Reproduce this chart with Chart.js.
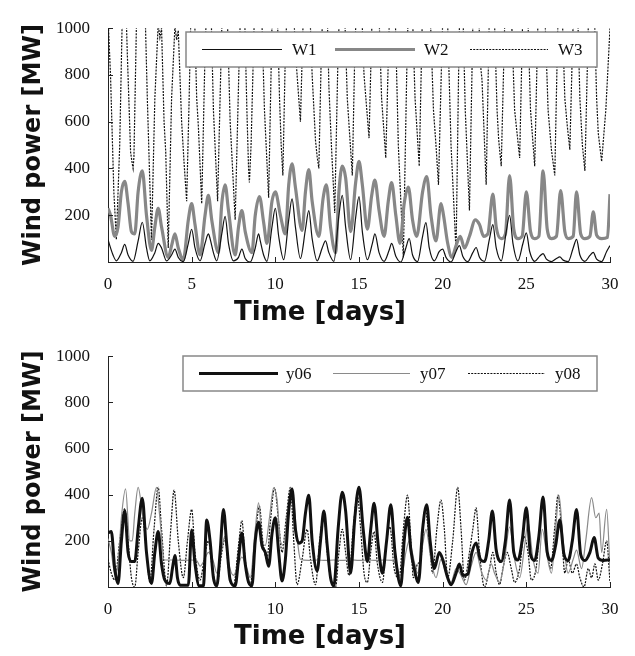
<!DOCTYPE html>
<html>
<head>
<meta charset="utf-8">
<script src="https://cdn.jsdelivr.net/npm/chart.js@4/dist/chart.umd.min.js"></script>
<style>
  body { margin: 0; background: #fff; }
  canvas { display: block; }
</style>
</head>
<body>
<canvas id="topChart" width="635" height="328"></canvas>
<canvas id="bottomChart" width="635" height="328"></canvas>
<script>
// ---- data: [day, MW] ----
var xTicks = [0, 5, 10, 15, 20, 25, 30];
var yTicks = [200, 400, 600, 800, 1000];

var w1 = [[0,95],[0.3,30],[0.5,5],[0.8,40],[1.0,75],[1.2,30],[1.5,3],[1.8,90],[2.05,170],[2.3,60],[2.5,5],[2.8,40],[3.0,80],[3.2,60],[3.5,5],[3.8,30],[4.0,55],[4.2,20],[4.5,2],[4.8,80],[5.0,140],[5.2,60],[5.5,5],[5.8,80],[6.0,120],[6.1,100],[6.3,40],[6.5,5],[6.8,120],[7.0,195],[7.2,80],[7.5,5],[7.8,20],[8.0,55],[8.2,15],[8.5,0],[8.8,60],[9.0,120],[9.1,90],[9.3,30],[9.5,3],[9.8,150],[10.0,230],[10.2,110],[10.5,10],[10.8,180],[11.0,270],[11.2,150],[11.5,15],[11.8,140],[12.0,220],[12.2,100],[12.5,5],[12.8,60],[13.0,90],[13.2,40],[13.5,3],[13.8,200],[14.0,285],[14.2,150],[14.5,10],[14.8,190],[15.0,280],[15.2,130],[15.5,10],[15.8,80],[15.95,120],[16.2,40],[16.5,3],[16.8,50],[16.95,80],[17.2,25],[17.5,0],[17.8,60],[18.0,100],[18.2,30],[18.5,2],[18.8,110],[19.0,168],[19.2,60],[19.5,5],[19.8,45],[20.0,55],[20.2,20],[20.5,0],[20.8,45],[21.0,70],[21.2,25],[21.5,2],[21.8,40],[22.0,62],[22.2,20],[22.5,3],[22.8,100],[23.0,160],[23.2,60],[23.5,5],[23.8,130],[24.0,200],[24.2,80],[24.5,5],[24.8,80],[25.0,125],[25.2,45],[25.5,3],[25.8,25],[26.0,36],[26.2,12],[26.5,2],[26.8,15],[27.0,22],[27.2,8],[27.5,2],[27.8,60],[28.0,97],[28.2,30],[28.5,3],[28.8,28],[29.0,41],[29.2,12],[29.5,2],[29.8,45],[30.0,70]];

var w2 = [[0,230],[0.15,200],[0.4,110],[0.6,150],[0.8,300],[1.0,345],[1.2,250],[1.4,130],[1.6,120],[1.8,300],[2.05,390],[2.3,200],[2.6,50],[2.8,150],[3.0,230],[3.2,150],[3.6,20],[3.8,70],[4.0,120],[4.2,60],[4.5,10],[4.8,180],[5.0,250],[5.2,160],[5.5,30],[5.8,200],[6.0,285],[6.2,180],[6.6,40],[6.8,250],[7.0,330],[7.2,220],[7.6,30],[7.8,150],[8.0,220],[8.2,130],[8.6,40],[8.8,200],[9.05,280],[9.3,170],[9.5,80],[9.8,260],[10.0,300],[10.3,200],[10.6,120],[10.8,330],[11.0,420],[11.2,320],[11.6,135],[11.8,300],[12.0,395],[12.2,260],[12.6,110],[12.85,270],[13.05,330],[13.3,150],[13.6,40],[13.8,300],[14.0,410],[14.2,360],[14.5,130],[14.8,340],[15.0,430],[15.2,330],[15.5,140],[15.75,280],[15.95,350],[16.2,220],[16.5,110],[16.75,260],[16.95,340],[17.2,200],[17.45,80],[17.7,250],[17.95,320],[18.2,180],[18.45,110],[18.8,300],[19.05,365],[19.3,200],[19.6,90],[19.9,250],[20.05,200],[20.3,80],[20.55,20],[20.8,70],[21.05,110],[21.3,60],[21.6,110],[21.95,180],[22.2,160],[22.45,110],[22.7,120],[23.0,290],[23.2,150],[23.5,100],[23.75,120],[24.0,370],[24.25,140],[24.5,100],[24.75,110],[25.0,300],[25.25,130],[25.5,100],[25.75,110],[26.0,390],[26.25,140],[26.5,100],[26.8,110],[27.05,305],[27.3,130],[27.5,100],[27.8,110],[28.0,300],[28.25,120],[28.5,100],[28.8,110],[29.0,215],[29.2,115],[29.5,100],[29.85,105],[30.0,290]];

// W3 peaks go far above the axis top and get clipped
var w3 = [[0,1050],[0.15,800],[0.35,300],[0.5,95],[0.7,500],[0.95,1400],[1.15,900],[1.35,470],[1.45,420],[1.5,400],[1.55,450],[1.8,1400],[2.1,1400],[2.35,700],[2.6,95],[2.8,700],[3.0,1020],[3.1,960],[3.2,1000],[3.35,600],[3.45,470],[3.6,60],[3.8,700],[4.0,1010],[4.1,950],[4.2,990],[4.4,600],[4.55,420],[4.7,260],[4.85,700],[5.05,1400],[5.3,700],[5.4,580],[5.6,250],[5.8,900],[6.05,1400],[6.3,650],[6.55,260],[6.8,1000],[7.0,1400],[7.3,600],[7.6,180],[7.85,900],[8.05,1400],[8.3,650],[8.4,400],[8.45,340],[8.55,500],[8.8,1200],[9.05,1400],[9.35,650],[9.6,275],[9.85,1200],[10.0,1400],[10.25,700],[10.35,500],[10.45,370],[10.6,900],[10.9,1400],[11.2,900],[11.5,600],[11.65,1000],[11.9,1400],[12.2,800],[12.4,520],[12.5,450],[12.6,400],[12.75,900],[13.0,1400],[13.2,750],[13.35,500],[13.55,210],[13.75,900],[14.0,1400],[14.3,700],[14.6,370],[14.75,900],[15.0,1400],[15.3,800],[15.6,530],[15.8,1100],[16.05,1400],[16.35,700],[16.6,445],[16.8,1000],[17.05,1400],[17.35,500],[17.65,20],[17.85,800],[18.05,1400],[18.35,700],[18.6,410],[18.8,1100],[19.1,1400],[19.45,650],[19.6,500],[19.75,330],[19.95,900],[20.15,1400],[20.5,500],[20.8,45],[20.95,800],[21.1,1400],[21.35,650],[21.45,480],[21.6,220],[21.8,1000],[22.0,1400],[22.25,850],[22.35,780],[22.6,330],[22.8,1100],[22.95,1400],[23.25,650],[23.35,520],[23.5,410],[23.7,1000],[23.95,1400],[24.3,650],[24.6,445],[24.8,1100],[24.95,1400],[25.25,650],[25.5,410],[25.7,1050],[25.95,1400],[26.3,650],[26.5,480],[26.7,370],[26.85,900],[27.0,1400],[27.3,700],[27.45,580],[27.6,480],[27.75,900],[27.95,1400],[28.2,700],[28.35,500],[28.5,390],[28.7,1000],[28.95,1400],[29.2,700],[29.3,550],[29.5,430],[29.75,650],[30.0,1000]];

var y06 = [[0,235],[0.2,240],[0.4,80],[0.6,15],[0.8,200],[1.0,330],[1.2,150],[1.4,110],[1.6,110],[1.8,250],[2.05,385],[2.3,150],[2.6,15],[2.8,150],[3.0,240],[3.2,100],[3.4,30],[3.7,15],[3.85,80],[4.0,137],[4.15,40],[4.3,8],[4.8,8],[5.0,247],[5.2,100],[5.45,5],[5.7,5],[5.9,290],[6.1,200],[6.3,40],[6.5,5],[6.7,150],[6.9,336],[7.1,180],[7.3,30],[7.6,5],[7.8,120],[8.0,234],[8.2,100],[8.4,20],[8.6,5],[8.8,200],[9.0,281],[9.2,180],[9.4,150],[9.6,90],[9.8,230],[10.0,300],[10.2,150],[10.4,26],[10.6,120],[10.8,330],[11.0,425],[11.2,250],[11.4,190],[11.6,200],[11.8,320],[12.0,398],[12.2,200],[12.5,70],[12.7,200],[12.9,329],[13.1,180],[13.3,40],[13.5,5],[13.75,250],[14.0,411],[14.2,330],[14.5,60],[14.75,300],[15.0,432],[15.25,250],[15.5,110],[15.7,250],[15.9,363],[16.15,180],[16.4,60],[16.65,200],[16.9,356],[17.15,150],[17.5,5],[17.7,200],[17.9,302],[18.1,160],[18.3,80],[18.55,20],[18.8,250],[19.05,356],[19.25,200],[19.5,80],[19.8,150],[20.0,120],[20.3,40],[20.5,10],[20.8,60],[21.0,100],[21.2,50],[21.5,55],[21.75,150],[22.0,191],[22.25,120],[22.5,110],[22.75,200],[22.97,329],[23.2,160],[23.5,110],[23.75,200],[24.0,377],[24.25,150],[24.5,117],[24.75,200],[25.0,343],[25.25,140],[25.5,115],[25.75,220],[26.0,390],[26.25,150],[26.5,115],[26.75,180],[27.0,290],[27.25,140],[27.5,115],[27.75,200],[28.0,336],[28.25,140],[28.5,115],[28.8,150],[29.05,214],[29.3,125],[29.6,115],[30.0,118]];

var y07 = [[0,210],[0.2,150],[0.4,60],[0.6,100],[0.8,300],[1.05,425],[1.3,200],[1.45,200],[1.6,320],[1.8,432],[2.1,300],[2.35,250],[2.6,320],[2.9,432],[3.1,300],[3.35,117],[4.0,117],[4.5,115],[5.0,117],[5.3,115],[5.5,90],[5.75,115],[6.0,150],[6.3,110],[6.5,60],[6.8,170],[7.0,220],[7.2,110],[7.5,50],[7.8,100],[8.0,130],[8.3,80],[8.5,40],[8.8,250],[9.0,365],[9.2,200],[9.4,180],[9.65,300],[9.9,430],[10.1,380],[10.3,200],[10.5,180],[10.75,330],[11.0,430],[11.25,250],[11.5,120],[12.0,115],[12.5,117],[13.0,115],[13.5,117],[14.0,115],[14.5,118],[15.0,115],[15.5,117],[16.0,115],[16.5,117],[17.0,115],[17.3,80],[17.5,30],[17.8,150],[18.0,200],[18.3,110],[18.5,60],[18.8,180],[19.0,250],[19.3,120],[19.6,40],[19.9,120],[20.2,60],[20.5,20],[20.8,80],[21.1,50],[21.4,10],[21.7,90],[22.0,150],[22.3,70],[22.6,30],[22.9,100],[23.1,60],[23.4,20],[23.7,120],[24.0,260],[24.3,120],[24.6,40],[24.9,180],[25.1,280],[25.4,120],[25.7,60],[25.95,250],[26.2,150],[26.5,60],[26.75,250],[26.95,397],[27.2,200],[27.5,60],[27.8,120],[28.0,160],[28.3,80],[28.55,200],[28.9,387],[29.15,300],[29.35,320],[29.5,150],[29.8,336],[30.0,80]];

var y08 = [[0,120],[0.2,60],[0.4,30],[0.7,200],[1.0,340],[1.2,200],[1.4,40],[1.6,0],[1.8,150],[2.05,300],[2.3,150],[2.5,20],[2.75,250],[3.0,432],[3.2,250],[3.5,5],[3.75,250],[3.95,420],[4.2,200],[4.5,40],[4.75,200],[5.0,336],[5.2,150],[5.5,30],[5.75,120],[6.0,200],[6.2,100],[6.5,5],[6.8,150],[7.0,210],[7.2,80],[7.5,5],[7.8,180],[8.0,288],[8.2,120],[8.5,10],[8.8,220],[9.05,350],[9.25,200],[9.5,120],[9.7,280],[9.95,430],[10.2,280],[10.4,150],[10.65,300],[10.9,432],[11.1,200],[11.3,10],[11.6,120],[11.9,250],[12.1,120],[12.4,10],[12.65,200],[12.9,315],[13.1,150],[13.35,20],[13.6,0],[13.8,150],[14.0,250],[14.2,150],[14.4,50],[14.65,250],[14.9,398],[15.1,250],[15.3,60],[15.5,20],[15.7,150],[15.9,240],[16.1,100],[16.4,20],[16.65,200],[16.85,260],[17.1,80],[17.4,40],[17.65,250],[17.9,398],[18.1,200],[18.25,40],[18.5,100],[18.7,120],[18.95,340],[19.2,200],[19.4,60],[19.65,250],[19.9,377],[20.1,250],[20.3,40],[20.6,200],[20.9,432],[21.1,250],[21.3,30],[21.6,150],[21.8,250],[22.0,343],[22.2,150],[22.5,0],[22.8,80],[23.0,150],[23.2,60],[23.4,10],[23.6,80],[23.85,150],[24.1,80],[24.3,20],[24.6,80],[24.85,220],[25.1,150],[25.3,30],[25.6,90],[25.85,300],[26.0,384],[26.2,200],[26.45,80],[26.7,260],[26.9,398],[27.1,250],[27.3,60],[27.5,120],[27.75,60],[28.0,100],[28.2,40],[28.45,0],[28.7,80],[28.9,40],[29.1,100],[29.3,30],[29.55,100],[29.8,200],[30.0,20]];

function pts(arr) {
  return arr.map(function (p) { return { x: p[0], y: p[1] }; });
}

Chart.defaults.font.family = '"Liberation Serif", "Times New Roman", serif';
Chart.defaults.color = '#111';

var titleFont = 'bold 26px "DejaVu Sans", sans-serif';

// boxed legend drawn inside the plot, over the lines
var boxLegend = {
  id: 'boxLegend',
  afterDatasetsDraw: function (chart) {
    var cfg = chart.options.plugins.boxLegend;
    var ctx = chart.ctx;
    ctx.save();
    ctx.fillStyle = '#fff';
    ctx.fillRect(cfg.left, cfg.top, cfg.width, cfg.height);
    ctx.strokeStyle = '#888';
    ctx.lineWidth = 1.5;
    ctx.strokeRect(cfg.left, cfg.top, cfg.width, cfg.height);
    var mid = cfg.top + cfg.height / 2;
    chart.data.datasets.forEach(function (ds, i) {
      var it = cfg.items[i];
      ctx.beginPath();
      ctx.strokeStyle = ds.borderColor;
      ctx.lineWidth = ds.borderWidth;
      ctx.setLineDash(ds.borderDash || []);
      ctx.moveTo(it.x0, mid);
      ctx.lineTo(it.x1, mid);
      ctx.stroke();
      ctx.setLineDash([]);
      ctx.fillStyle = '#111';
      ctx.font = '17px "Liberation Serif", serif';
      ctx.textBaseline = 'middle';
      ctx.fillText(ds.label, it.tx, mid + 1);
    });
    ctx.restore();
  }
};

// short tick marks pointing into the plot, plus the x title centred on the figure
var axisExtras = {
  id: 'axisExtras',
  afterDraw: function (chart) {
    var ctx = chart.ctx;
    var xs = chart.scales.x, ys = chart.scales.y;
    var a = chart.chartArea;
    ctx.save();
    ctx.strokeStyle = '#222';
    ctx.lineWidth = 1;
    ctx.beginPath();
    xTicks.forEach(function (v) {
      var px = Math.round(xs.getPixelForValue(v)) + 0.5;
      ctx.moveTo(px, a.bottom);
      ctx.lineTo(px, a.bottom - 5);
    });
    yTicks.forEach(function (v) {
      var py = Math.round(ys.getPixelForValue(v)) + 0.5;
      ctx.moveTo(a.left, py);
      ctx.lineTo(a.left + 5, py);
    });
    ctx.stroke();
    var t = chart.options.plugins.axisExtras;
    ctx.font = titleFont;
    ctx.fillStyle = '#111';
    ctx.textAlign = 'center';
    ctx.textBaseline = 'middle';
    ctx.fillText('Time [days]', t.titleX, t.titleY);
    ctx.restore();
  }
};

function makeChart(id, datasets, padTop, xHeight, titleY, legendCfg) {
  return new Chart(document.getElementById(id), {
    type: 'line',
    data: { datasets: datasets },
    options: {
      responsive: false,
      animation: false,
      devicePixelRatio: 1,
      layout: { padding: { left: 0, right: 25, top: padTop, bottom: 0 } },
      elements: { point: { radius: 0 } },
      plugins: {
        legend: { display: false },
        tooltip: { enabled: false },
        boxLegend: legendCfg,
        axisExtras: { titleX: 320, titleY: titleY }
      },
      scales: {
        x: {
          type: 'linear',
          min: 0,
          max: 30,
          afterFit: function (s) { s.height = xHeight; },
          afterBuildTicks: function (s) { s.ticks = xTicks.map(function (v) { return { value: v }; }); },
          grid: { drawOnChartArea: false, drawTicks: false },
          border: { display: true, color: '#222', width: 1 },
          ticks: { padding: 12, font: { size: 17 }, color: '#111' }
        },
        y: {
          min: 0,
          max: 1000,
          afterFit: function (s) { s.width = 108; },
          afterBuildTicks: function (s) { s.ticks = [0].concat(yTicks).map(function (v) { return { value: v }; }); },
          grid: { drawOnChartArea: false, drawTicks: false },
          border: { display: true, color: '#222', width: 1 },
          ticks: {
            padding: 18,
            font: { size: 17 },
            color: '#111',
            callback: function (v) { return v === 0 ? '' : v; }
          },
          title: {
            display: true,
            text: 'Wind power [MW]',
            color: '#111',
            font: { family: '"DejaVu Sans", sans-serif', size: 24, weight: 'bold', lineHeight: 1.2 },
            padding: { top: 19, bottom: 0 }
          }
        }
      }
    },
    plugins: [boxLegend, axisExtras]
  });
}

makeChart('topChart', [
  { label: 'W1', data: pts(w1), borderColor: '#111', borderWidth: 1.2, cubicInterpolationMode: 'monotone' },
  { label: 'W2', data: pts(w2), borderColor: '#878787', borderWidth: 3.2, cubicInterpolationMode: 'monotone' },
  { label: 'W3', data: pts(w3), borderColor: '#111', borderWidth: 1.2, borderDash: [2, 1.2] }
], 19, 66, 313, {
  left: 186, top: 32, width: 411, height: 35,
  items: [{ x0: 202, x1: 282, tx: 292 }, { x0: 335, x1: 415, tx: 424 }, { x0: 470, x1: 548, tx: 558 }]
});

makeChart('bottomChart', [
  { label: 'y06', data: pts(y06), borderColor: '#111', borderWidth: 3, cubicInterpolationMode: 'monotone' },
  { label: 'y07', data: pts(y07), borderColor: '#8a8a8a', borderWidth: 1.2, cubicInterpolationMode: 'monotone' },
  { label: 'y08', data: pts(y08), borderColor: '#111', borderWidth: 1.2, borderDash: [2, 1.2], cubicInterpolationMode: 'monotone' }
], 15, 69, 309, {
  left: 183, top: 28, width: 414, height: 35,
  items: [{ x0: 199, x1: 278, tx: 286 }, { x0: 333, x1: 410, tx: 420 }, { x0: 468, x1: 545, tx: 555 }]
});
</script>
</body>
</html>
